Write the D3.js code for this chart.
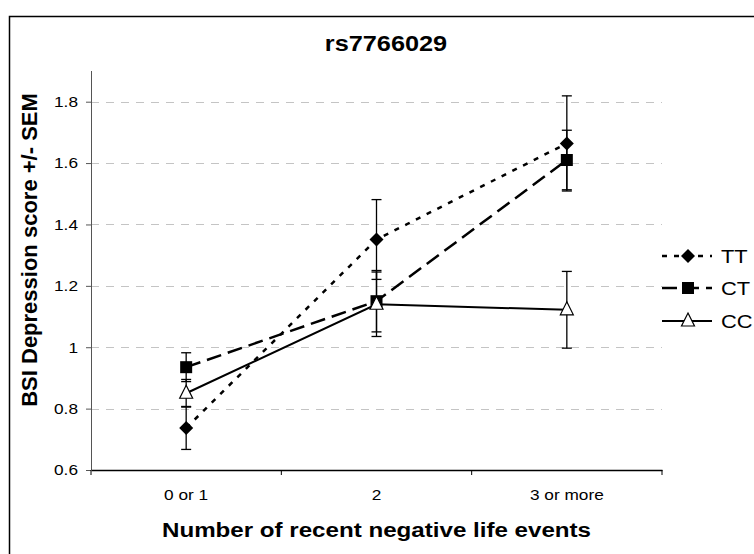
<!DOCTYPE html>
<html>
<head>
<meta charset="utf-8">
<title>rs7766029</title>
<style>
  body { margin: 0; background: #fff; }
  text { font-family: "Liberation Sans", Arial, sans-serif; }
</style>
</head>
<body>
<script src="https://cdn.jsdelivr.net/npm/d3@7"></script>
<script>
// data
var categories = ["0 or 1", "2", "3 or more"];
var seriesNames = ["TT", "CT", "CC"];
var ttMean = [0.737, 1.351, 1.664];
var ttSem  = [0.070, 0.130, 0.155];
var ctMean = [0.935, 1.150, 1.610];
var ctSem  = [0.047, 0.100, 0.097];
var ccMean = [0.850, 1.140, 1.122];
var ccSem  = [0.045, 0.105, 0.125];
var yTicks = [0.6, 0.8, 1, 1.2, 1.4, 1.6, 1.8];

var W = 754, H = 554;
var margin = {top: 71, right: 92, bottom: 84, left: 91};
var SX = 1.15; // the original picture is stretched sideways a bit

var svg = d3.select("body").append("svg")
  .attr("width", W).attr("height", H);

// outer chart border (runs off the page on the right and bottom)
svg.append("rect")
  .attr("x", 9.5).attr("y", 16.5)
  .attr("width", 800).attr("height", 600)
  .attr("fill", "none").attr("stroke", "#000").attr("stroke-width", 1.5);

var x = d3.scaleBand().domain(categories).range([margin.left, W - margin.right]);
var y = d3.scaleLinear().domain([0.6, 1.9]).range([H - margin.bottom, margin.top]);
var cx = function(c) { return x(c) + x.bandwidth() / 2; };
var plotMid = (margin.left + W - margin.right) / 2;

// gridlines
svg.append("g").selectAll("line")
  .data(yTicks.filter(function(t) { return t > 0.6; }))
  .enter().append("line")
  .attr("x1", margin.left).attr("x2", W - margin.right)
  .attr("y1", function(d) { return Math.round(y(d)) + 0.5; })
  .attr("y2", function(d) { return Math.round(y(d)) + 0.5; })
  .attr("stroke", "#c4c4c4").attr("stroke-width", 1)
  .attr("stroke-dasharray", "8,7");

// y axis
var yAxis = svg.append("g")
  .attr("transform", "translate(" + margin.left + ",0)")
  .call(d3.axisLeft(y).tickValues(yTicks).tickSize(5).tickPadding(8)
    .tickFormat(function(d) { return String(d); }));
yAxis.select(".domain").attr("stroke", "#555").attr("d",
  "M0.5," + margin.top + "V" + (H - margin.bottom));
yAxis.selectAll(".tick line").attr("stroke", "#555");
yAxis.selectAll("text").style("font-size", "15px").attr("fill", "#000")
  .attr("x", null)
  .attr("transform", "translate(-13,0) scale(" + SX + ",1)");

// x axis
var xAxis = svg.append("g")
  .attr("transform", "translate(0," + (H - margin.bottom) + ")")
  .call(d3.axisBottom(x).tickSize(0).tickPadding(19));
xAxis.select(".domain").attr("stroke", "#000").attr("stroke-width", 1.5);
xAxis.selectAll("text").style("font-size", "15px").attr("fill", "#000")
  .attr("transform", "scale(" + SX + ",1)");
// category boundary ticks
svg.append("g").selectAll("line")
  .data([x.range()[0]].concat(categories.map(function(c) { return x(c) + x.bandwidth(); })))
  .enter().append("line")
  .attr("x1", function(d) { return d; }).attr("x2", function(d) { return d; })
  .attr("y1", H - margin.bottom).attr("y2", H - margin.bottom + 5)
  .attr("stroke", "#000").attr("stroke-width", 1);

var series = [
  {name: seriesNames[0], mean: ttMean, sem: ttSem, dash: "5,7", width: 2.5, marker: "diamond"},
  {name: seriesNames[1], mean: ctMean, sem: ctSem, dash: "15,7", width: 2.5, marker: "square"},
  {name: seriesNames[2], mean: ccMean, sem: ccSem, dash: null, width: 2, marker: "triangle"}
];

// error bars
series.forEach(function(s) {
  var g = svg.append("g").attr("stroke", "#000").attr("stroke-width", 1.3);
  categories.forEach(function(c, i) {
    var px = cx(c), lo = y(s.mean[i] - s.sem[i]), hi = y(s.mean[i] + s.sem[i]);
    g.append("line").attr("x1", px).attr("x2", px).attr("y1", lo).attr("y2", hi);
    g.append("line").attr("x1", px - 5).attr("x2", px + 5).attr("y1", lo).attr("y2", lo);
    g.append("line").attr("x1", px - 5).attr("x2", px + 5).attr("y1", hi).attr("y2", hi);
  });
});

var line = d3.line()
  .x(function(d) { return cx(d.c); })
  .y(function(d) { return y(d.v); });

function pts(s) {
  return categories.map(function(c, i) { return {c: c, v: s.mean[i]}; });
}

function drawMarker(g, type, px, py) {
  if (type === "diamond") {
    g.append("path")
      .attr("d", "M" + px + "," + (py - 7) + "L" + (px + 7) + "," + py + "L" + px + "," + (py + 7) + "L" + (px - 7) + "," + py + "Z")
      .attr("fill", "#000");
  } else if (type === "square") {
    g.append("rect").attr("x", px - 6).attr("y", py - 6).attr("width", 12).attr("height", 12)
      .attr("fill", "#000");
  } else {
    g.append("path")
      .attr("d", "M" + px + "," + (py - 8) + "L" + (px + 6.5) + "," + (py + 5) + "L" + (px - 6.5) + "," + (py + 5) + "Z")
      .attr("fill", "#fff").attr("stroke", "#000").attr("stroke-width", 1.2);
  }
}

// lines
series.forEach(function(s) {
  svg.append("path")
    .attr("d", line(pts(s)))
    .attr("fill", "none").attr("stroke", "#000")
    .attr("stroke-width", s.width)
    .attr("stroke-dasharray", s.dash);
});
// markers
series.forEach(function(s) {
  var g = svg.append("g");
  pts(s).forEach(function(p) { drawMarker(g, s.marker, cx(p.c), y(p.v)); });
});

// legend
var legY = [256, 288, 321];
series.forEach(function(s, i) {
  var g = svg.append("g");
  g.append("line").attr("x1", 662).attr("x2", 712)
    .attr("y1", legY[i]).attr("y2", legY[i])
    .attr("stroke", "#000").attr("stroke-width", s.width)
    .attr("stroke-dasharray", s.dash);
  drawMarker(g, s.marker, 688, legY[i]);
  g.append("text").attr("transform", "translate(721," + legY[i] + ") scale(" + SX + ",1)")
    .attr("dy", "0.36em")
    .style("font-size", "19px").text(s.name);
});

// titles
svg.append("text")
  .attr("transform", "translate(386,51) scale(" + SX + ",1)")
  .attr("text-anchor", "middle")
  .style("font-size", "22px").style("font-weight", "bold")
  .text("rs7766029");

svg.append("text")
  .attr("transform", "translate(" + plotMid + ",537) scale(" + SX + ",1)")
  .attr("text-anchor", "middle")
  .style("font-size", "21px").style("font-weight", "bold")
  .text("Number of recent negative life events");

svg.append("text")
  .attr("transform", "translate(37,250) rotate(-90)")
  .attr("text-anchor", "middle")
  .style("font-size", "22px").style("font-weight", "bold")
  .text("BSI Depression score +/- SEM");
</script>
</body>
</html>
